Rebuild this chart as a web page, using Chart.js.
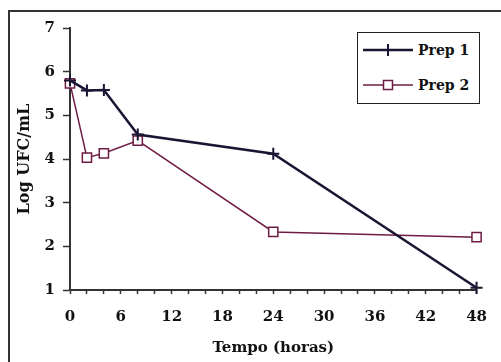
<!DOCTYPE html>
<html lang="pt">
  <head>
    <meta charset="UTF-8" />
    <title>Log UFC/mL vs Tempo</title>
    <script src="https://cdn.jsdelivr.net/npm/chart.js"></script>
    <style>
      body { margin: 0; background: #fff; }
      .wrap { position: relative; width: 501px; height: 362px; }
      .frame {
        position: absolute; left: 8px; top: 10px; width: 491px; height: 360px;
        border-left: 2px solid #333; border-top: 2px solid #333; border-right: 1px solid #bbb;
      }
      .legend {
        position: absolute; left: 357px; top: 32px; width: 121px; height: 70px;
        border: 1.5px solid #222; background: #fff;
        font-family: "DejaVu Serif", serif; font-weight: bold; font-size: 14px; color: #111;
      }
      .row { position: absolute; left: 5px; display: flex; align-items: center; }
      .row svg { margin-right: 5px; }
    </style>
  </head>
  <body>
    <div class="wrap">
      <div class="frame"></div>
      <canvas id="chart" width="501" height="362"></canvas>
      <!-- legenda -->
      <div class="legend">
        <div class="row" style="top: 9px">
          <svg width="50" height="14"><line x1="0" y1="7" x2="50" y2="7" stroke="#1c1433" stroke-width="2.5"/><line x1="25" y1="1" x2="25" y2="13" stroke="#1c1433" stroke-width="2"/></svg>
          <span>Prep 1</span>
        </div>
        <div class="row" style="top: 44px">
          <svg width="50" height="14"><line x1="0" y1="7" x2="50" y2="7" stroke="#6e1c44" stroke-width="1.5"/><rect x="20.5" y="2.5" width="9" height="9" fill="#fff" stroke="#6e1c44" stroke-width="1.5"/></svg>
          <span>Prep 2</span>
        </div>
      </div>
    </div>

    <script>
      // dados
      const hours = [0, 2, 4, 8, 24, 48];
      const prep1 = [5.8, 5.57, 5.58, 4.56, 4.12, 1.05];
      const prep2 = [5.73, 4.03, 4.13, 4.42, 2.33, 2.21];
      const xTicks = [0, 6, 12, 18, 24, 30, 36, 42, 48];
      const yTicks = [1, 2, 3, 4, 5, 6, 7];

      const font = { family: "DejaVu Serif", weight: "bold", size: 15 };
      const titleFont = { family: "DejaVu Serif", weight: "bold", size: 15 };

      const toPoints = (vals) => hours.map((h, i) => ({ x: h, y: vals[i] }));

      new Chart(document.getElementById("chart"), {
        type: "line",
        data: {
          datasets: [
            {
              label: "Prep 1",
              data: toPoints(prep1),
              borderColor: "#1c1433",
              backgroundColor: "#1c1433",
              borderWidth: 2.5,
              pointStyle: "cross",
              pointRadius: 6,
              pointBorderWidth: 2,
              tension: 0,
            },
            {
              label: "Prep 2",
              data: toPoints(prep2),
              borderColor: "#6e1c44",
              backgroundColor: "#ffffff",
              borderWidth: 1.5,
              pointStyle: "rect",
              pointRadius: 6.5,
              pointBorderWidth: 1.5,
              tension: 0,
            },
          ],
        },
        options: {
          responsive: false,
          animation: false,
          clip: false,
          layout: { padding: { left: 11, top: 28, right: 13, bottom: 0 } },
          plugins: { legend: { display: false }, tooltip: { enabled: false } },
          scales: {
            x: {
              type: "linear",
              min: 0,
              max: 48,
              afterFit: (s) => { s.height = 72; },
              afterBuildTicks: (s) => {
                s.ticks = [];
                for (let v = 0; v <= 48; v += 2) s.ticks.push({ value: v });
              },
              ticks: {
                autoSkip: false,
                maxRotation: 0,
                padding: 14,
                color: "#111",
                font,
                callback: (v) => (xTicks.includes(v) ? v : ""),
              },
              grid: { drawOnChartArea: false, tickLength: 4, tickColor: "#333", tickWidth: 1.5 },
              border: { color: "#333", width: 2 },
              title: { display: true, text: "Tempo (horas)", color: "#111", font: titleFont, padding: { top: 0, bottom: 5 } },
            },
            y: {
              min: 1,
              max: 7,
              afterFit: (s) => { s.width = 59; },
              afterBuildTicks: (s) => { s.ticks = yTicks.map((v) => ({ value: v })); },
              ticks: { padding: 8, color: "#111", font },
              grid: { drawOnChartArea: false, tickLength: 7, tickColor: "#333", tickWidth: 1.5 },
              border: { color: "#333", width: 2 },
              title: { display: true, text: "Log UFC/mL", color: "#111", font: { ...titleFont, size: 16 }, padding: { top: 4, bottom: 4 } },
            },
          },
        },
      });
    </script>
  </body>
</html>
